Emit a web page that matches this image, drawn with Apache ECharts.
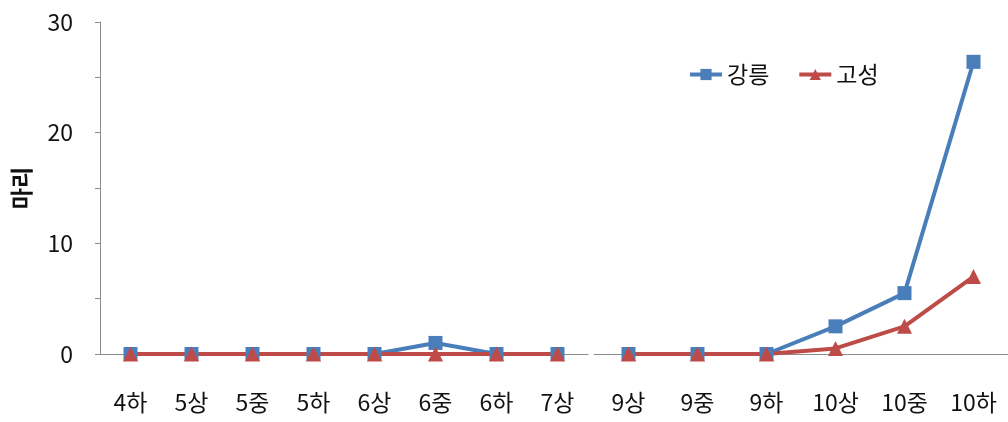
<!DOCTYPE html>
<html><head><meta charset="utf-8">
<script src="https://cdn.jsdelivr.net/npm/echarts@6/dist/echarts.min.js"></script>
<style>html,body{margin:0;padding:0;background:#fff}#c{width:1008px;height:422px}</style>
</head><body><div id="c"></div>
<script>
var catsA = ['4하','5상','5중','5하','6상','6중','6하','7상'];
var catsB = ['9상','9중','9하','10상','10중','10하'];
var gangneungA = [0,0,0,0,0,1,0,0];
var goseongA   = [0,0,0,0,0,0,0,0];
var gangneungB = [0,0,0,2.5,5.5,26.4];
var goseongB   = [0,0,0,0.5,2.5,7];
var seriesNames = ['강릉','고성'];
var yTicks = {min:0, max:30, interval:10};

var FONT = '"Noto Sans CJK KR", sans-serif';
var BLUE = '#4A7EBB', RED = '#BE4B48', AXIS = '#8C8C8C';
var chart = echarts.init(document.getElementById('c'));
function xAx(idx, cats){
  return {type:'category', gridIndex:idx, data:cats, boundaryGap:true,
    axisLine:{lineStyle:{color:AXIS,width:1}}, axisTick:{show:false},
    axisLabel:{color:'#111', fontSize:23, fontFamily:FONT, margin:37, interval:0}};
}
function yAx(idx, show){
  return {type:'value', gridIndex:idx, min:yTicks.min, max:yTicks.max, interval:yTicks.interval,
    show:show, name: show ? '마리' : '', nameLocation:'middle', nameGap:67, nameRotate:90,
    nameTextStyle:{fontSize:23, fontWeight:'bold', fontFamily:FONT, color:'#111'},
    axisLine:{show:true, lineStyle:{color:AXIS,width:1}},
    axisTick:{show:true, inside:false, length:5, lineStyle:{color:AXIS}},
    minorTick:{show:true, splitNumber:2, length:5, lineStyle:{color:AXIS}},
    splitLine:{show:false},
    axisLabel:{color:'#111', fontSize:23, fontFamily:FONT, margin:27}};
}
function ser(name, data, idx, color, sym, size){
  return {type:'line', name:name, xAxisIndex:idx, yAxisIndex:idx, data:data,
    symbol:sym, symbolSize:size, showSymbol:true,
    lineStyle:{color:color, width:4}, itemStyle:{color:color}, animation:false};
}
chart.setOption({
  animation:false,
  grid:[{left:100, top:22, width:488, bottom:68},
        {left:594, top:22, width:426, bottom:68}],
  legend:{left:683, top:58, itemWidth:32, itemHeight:14, itemGap:28,
    lineStyle:{width:4},
    textStyle:{fontSize:23, fontFamily:FONT, color:'#111'},
    data:seriesNames},
  xAxis:[xAx(0,catsA), xAx(1,catsB)],
  yAxis:[yAx(0,true), yAx(1,false)],
  series:[
    ser(seriesNames[0], gangneungA, 0, BLUE, 'rect', 14),
    ser(seriesNames[1], goseongA, 0, RED, 'triangle', 15),
    ser(seriesNames[0], gangneungB, 1, BLUE, 'rect', 14),
    ser(seriesNames[1], goseongB, 1, RED, 'triangle', 15)
  ]
});
</script></body></html>
